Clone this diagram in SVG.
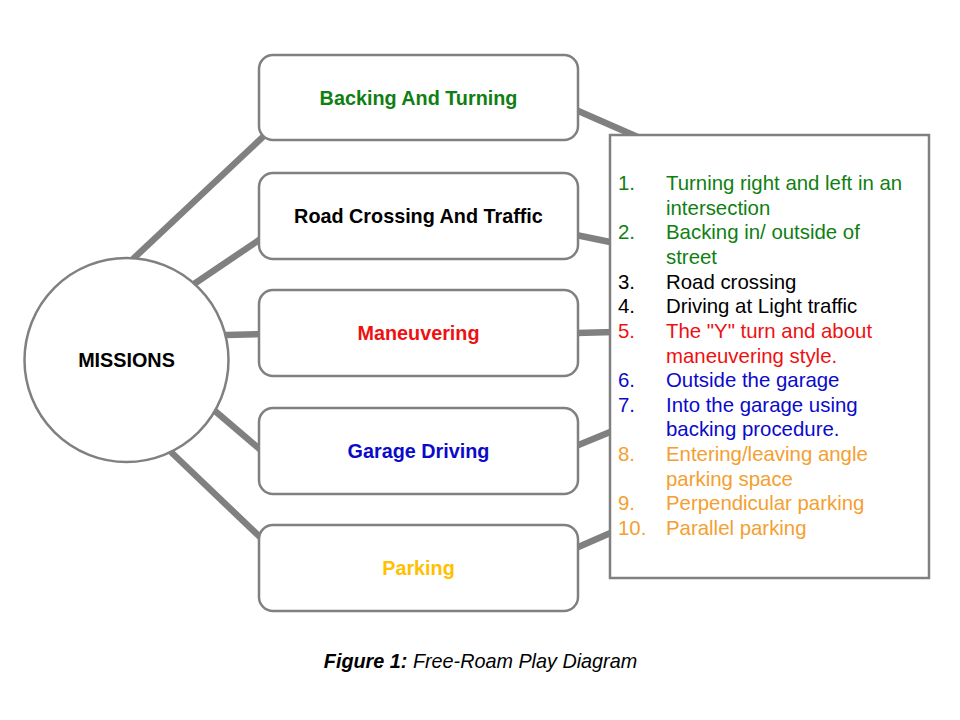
<svg xmlns="http://www.w3.org/2000/svg" width="960" height="720" viewBox="0 0 960 720">
<style>
.conn{stroke:#808080;stroke-width:6.5;fill:none;stroke-linecap:butt}
.box{fill:#ffffff;stroke:#808080;stroke-width:2.5}
.lbl{font-family:"Liberation Sans",Arial,sans-serif;font-size:19.8px;font-weight:bold;text-anchor:middle}
.li{font-family:"Liberation Sans",Arial,sans-serif;font-size:20.4px}
.g{fill:#0f7f12}.k{fill:#000000}.r{fill:#ee1111}.b{fill:#0a0acc}.o{fill:#f4a030}
</style>
<rect width="960" height="720" fill="#ffffff"/>
<g id="connectors">
<line class="conn" x1="133" y1="259" x2="266" y2="134"/>
<line class="conn" x1="194" y1="284" x2="262" y2="238"/>
<line class="conn" x1="226" y1="335" x2="262" y2="334"/>
<line class="conn" x1="215" y1="411" x2="262" y2="451"/>
<line class="conn" x1="171" y1="452" x2="262" y2="539"/>
<line class="conn" x1="576" y1="110" x2="640" y2="138"/>
<line class="conn" x1="576" y1="235" x2="615" y2="243"/>
<line class="conn" x1="576" y1="333" x2="615" y2="332"/>
<line class="conn" x1="576" y1="446" x2="615" y2="430"/>
<line class="conn" x1="576" y1="548" x2="615" y2="531"/>
</g>
<g id="missions">
<circle class="box" cx="126.5" cy="360" r="102"/>
<text class="lbl k" x="126.5" y="367">MISSIONS</text>
</g>
<g id="backing-and-turning">
<rect class="box" x="259" y="55" width="319" height="85" rx="14"/>
<text class="lbl g" x="418.5" y="105">Backing And Turning</text>
</g>
<g id="road-crossing">
<rect class="box" x="259" y="173" width="319" height="86" rx="14"/>
<text class="lbl k" x="418.5" y="223">Road Crossing And Traffic</text>
</g>
<g id="maneuvering">
<rect class="box" x="259" y="290" width="319" height="86" rx="14"/>
<text class="lbl r" x="418.5" y="340">Maneuvering</text>
</g>
<g id="garage-driving">
<rect class="box" x="259" y="408" width="319" height="86" rx="14"/>
<text class="lbl b" x="418.5" y="458">Garage Driving</text>
</g>
<g id="parking">
<rect class="box" x="259" y="525" width="319" height="86" rx="14"/>
<text class="lbl" fill="#ffc000" x="418.5" y="575">Parking</text>
</g>
<g id="list">
<rect x="610" y="135" width="319" height="443" fill="#ffffff" stroke="#808080" stroke-width="2.5"/>
<g class="li">
<text class="g" x="618" y="190">1.</text><text class="g" x="666" y="190">Turning right and left in an</text>
<text class="g" x="666" y="214.6">intersection</text>
<text class="g" x="618" y="239.3">2.</text><text class="g" x="666" y="239.3">Backing in/ outside of</text>
<text class="g" x="666" y="263.9">street</text>
<text class="k" x="618" y="288.6">3.</text><text class="k" x="666" y="288.6">Road crossing</text>
<text class="k" x="618" y="313.2">4.</text><text class="k" x="666" y="313.2">Driving at Light traffic</text>
<text class="r" x="618" y="337.8">5.</text><text class="r" x="666" y="337.8">The "Y" turn and about</text>
<text class="r" x="666" y="362.5">maneuvering style.</text>
<text class="b" x="618" y="387.1">6.</text><text class="b" x="666" y="387.1">Outside the garage</text>
<text class="b" x="618" y="411.8">7.</text><text class="b" x="666" y="411.8">Into the garage using</text>
<text class="b" x="666" y="436.4">backing procedure.</text>
<text class="o" x="618" y="461">8.</text><text class="o" x="666" y="461">Entering/leaving angle</text>
<text class="o" x="666" y="485.7">parking space</text>
<text class="o" x="618" y="510.3">9.</text><text class="o" x="666" y="510.3">Perpendicular parking</text>
<text class="o" x="618" y="535">10.</text><text class="o" x="666" y="535">Parallel parking</text>
</g>
</g>
<text x="480.5" y="668" font-family="Liberation Sans,Arial,sans-serif" font-size="19.8px" font-style="italic" text-anchor="middle" fill="#000000"><tspan font-weight="bold">Figure 1:</tspan> Free-Roam Play Diagram</text>
</svg>
